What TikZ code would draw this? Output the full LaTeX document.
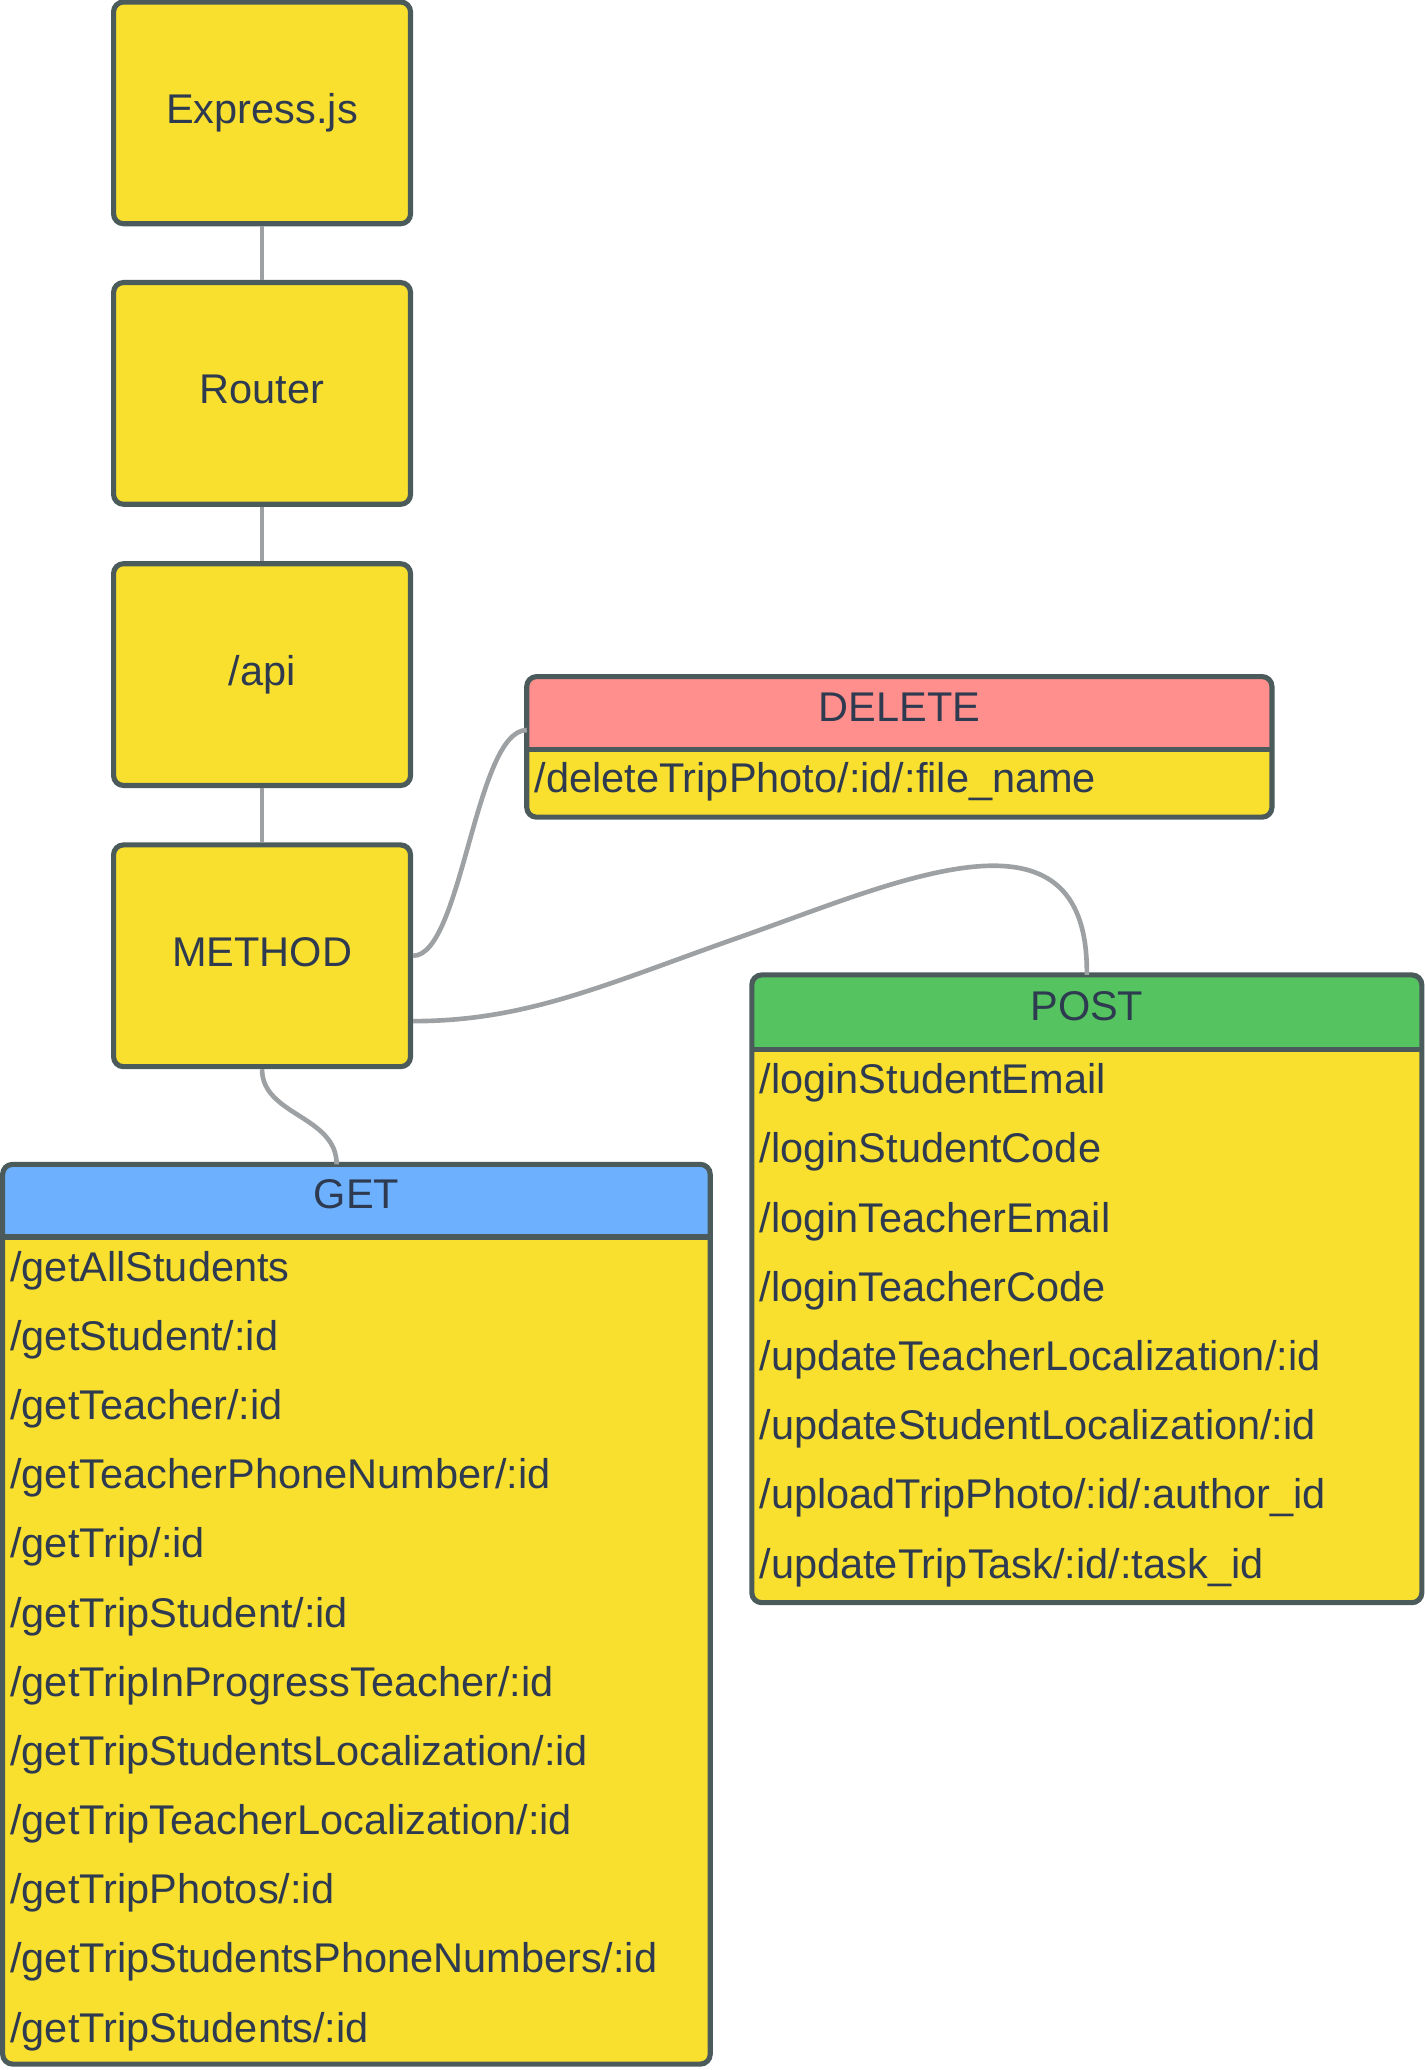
\documentclass[tikz,border=0pt]{standalone}
\usepackage{fontspec}
\setmainfont{Liberation Sans}
\usetikzlibrary{calc}
\definecolor{yel}{HTML}{F9E02F}
\definecolor{edge}{HTML}{4B5B5B}
\definecolor{ink}{HTML}{2E3A4F}
\definecolor{wire}{HTML}{9EA1A4}
\definecolor{delred}{HTML}{FF8F8C}
\definecolor{postgreen}{HTML}{54C360}
\definecolor{getblue}{HTML}{6DB1FE}
\newcommand{\lfont}{\fontsize{17.9}{21.5}\selectfont}
\tikzstyle{block} = [rectangle, draw=edge, fill=yel, line width=2.2pt, rounded corners=0.15cm, minimum width=4.5cm, minimum height=3.36cm, text=ink, font=\lfont, text height=12.9pt, text depth=3.8pt]
\tikzstyle{tbl} = [draw=edge, line width=2.2pt, rounded corners=0.15cm]
\tikzstyle{sep} = [draw=edge, line width=2.2pt]
\tikzstyle{head} = [rectangle, inner sep=0pt, outer sep=0pt, text=ink, font=\lfont, text height=12.9pt, text depth=6.1pt]
\tikzstyle{row} = [anchor=base west, inner sep=0pt, text=ink, font=\lfont]
\tikzstyle{link} = [draw=wire, line width=2pt]

\begin{document}
\begin{tikzpicture}[x=0.02cm,y=-0.02cm]
\useasboundingbox (0,0) rectangle (1079.4,1568);
% main chain
\node (express) [block] at (198.5,85.5) {Express.js};
\node (router) [block] at (198.5,298) {Router};
\node (api) [block] at (198.5,511) {/api};
\node (method) [block] at (198.5,724) {METHOD};
%
% DELETE
\fill [yel, rounded corners=0.15cm] (399,512.5) rectangle (963.5,619);
\fill [delred, rounded corners=0.15cm] (399,512.5) rectangle (963.5,568);
\fill [delred] (399,530) rectangle (963.5,568);
\draw [sep] (399,568) -- (963.5,568);
\draw [tbl] (399,512.5) rectangle (963.5,619);
\node (delhead) [head, minimum width=11.29cm, minimum height=1.11cm] at (681.25,540.25) {DELETE};
\node (d1) [row] at (404.5,600.5) {/deleteTripPhoto/:id/:file\_name};
%
% POST
\fill [yel, rounded corners=0.15cm] (569.5,738.5) rectangle (1077,1214);
\fill [postgreen, rounded corners=0.15cm] (569.5,738.5) rectangle (1077,795);
\fill [postgreen] (569.5,756) rectangle (1077,795);
\draw [sep] (569.5,795) -- (1077,795);
\draw [tbl] (569.5,738.5) rectangle (1077,1214);
\node (posthead) [head, minimum width=10.15cm, minimum height=1.13cm] at (823.25,766.75) {POST};
\node (p1) [row] at (575,828.5) {/loginStudentEmail};
\node (p2) [row] at (575,880.9) {/loginStudentCode};
\node (p3) [row] at (575,933.3) {/loginTeacherEmail};
\node (p4) [row] at (575,985.7) {/loginTeacherCode};
\node (p5) [row] at (575,1038.1) {/updateTeacherLocalization/:id};
\node (p6) [row] at (575,1090.5) {/updateStudentLocalization/:id};
\node (p7) [row] at (575,1142.9) {/uploadTripPhoto/:id/:author\_id};
\node (p8) [row] at (575,1195.3) {/updateTripTask/:id/:task\_id};
%
% GET
\fill [yel, rounded corners=0.15cm] (2,882) rectangle (538,1563.5);
\fill [getblue, rounded corners=0.15cm] (2,882) rectangle (538,937);
\fill [getblue] (2,900) rectangle (538,937);
\draw [sep] (2,937) -- (538,937);
\draw [tbl] (2,882) rectangle (538,1563.5);
\node (gethead) [head, minimum width=10.72cm, minimum height=1.1cm] at (270,909.5) {GET};
\node (g1) [row] at (7.5,970.5) {/getAllStudents};
\node (g2) [row] at (7.5,1022.9) {/getStudent/:id};
\node (g3) [row] at (7.5,1075.3) {/getTeacher/:id};
\node (g4) [row] at (7.5,1127.7) {/getTeacherPhoneNumber/:id};
\node (g5) [row] at (7.5,1180.1) {/getTrip/:id};
\node (g6) [row] at (7.5,1232.5) {/getTripStudent/:id};
\node (g7) [row] at (7.5,1284.9) {/getTripInProgressTeacher/:id};
\node (g8) [row] at (7.5,1337.3) {/getTripStudentsLocalization/:id};
\node (g9) [row] at (7.5,1389.7) {/getTripTeacherLocalization/:id};
\node (g10) [row] at (7.5,1442.1) {/getTripPhotos/:id};
\node (g11) [row] at (7.5,1494.5) {/getTripStudentsPhoneNumbers/:id};
\node (g12) [row] at (7.5,1546.9) {/getTripStudents/:id};
%
% connectors
\draw [link] (express.south) -- (router.north);
\draw [link] (router.south) -- (api.north);
\draw [link] (api.south) -- (method.north);
\draw [link] (method.east) .. controls (350,724) and (360,553) .. ($(delhead.west)+(0,12.75)$);
\draw [link] ($(method.east)+(0,49.5)$) .. controls (400,773.5) and (460,745) .. (560,710) .. controls (680,668) and (825,600) .. (posthead.north);
\draw [link] (method.south) .. controls (198.5,845) and (255,845) .. ($(gethead.north)+(-15,0)$);
\end{tikzpicture}
\end{document}
